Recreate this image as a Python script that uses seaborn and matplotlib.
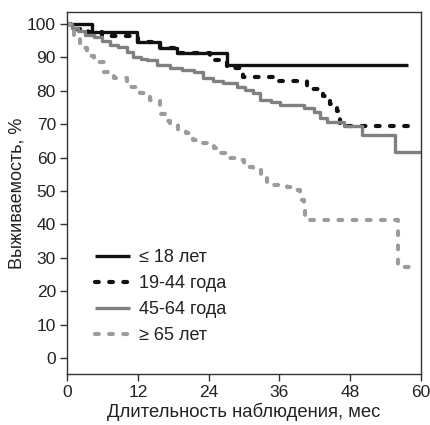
import matplotlib
matplotlib.use("Agg")
import matplotlib.pyplot as plt
import seaborn as sns
import pandas as pd

# Kaplan-Meier step data (months, survival %)
t_le18 = [0, 4.2, 11.9, 15.8, 18.6, 27.1, 57.8]
s_le18 = [100, 97.5, 94.6, 92.9, 91.2, 87.8, 87.8]

t_19_44 = [0, 1.5, 3.5, 6, 12, 15.8, 18.6, 24.2, 27.1, 29.8, 34.9, 40.6, 43.4, 44.5, 45.7, 46.3, 58.6]
s_19_44 = [100, 98.5, 97.5, 96.3, 94.6, 92.9, 91.2, 89.2, 86.8, 84.2, 82.8, 80.4, 78.3, 76, 74, 69.5, 69.5]

t_45_64 = [0, 0.8, 1.8, 3, 4.5, 6, 7.3, 8.7, 10.1, 11.2, 12.5, 13.5, 15.2, 17.5, 19.5, 21.5, 23.1,
           24.8, 26.5, 28.8, 30.2, 31.6, 32.7, 34.5, 36.1, 40.1, 41.8, 42.9, 44.1, 46.9, 50, 55.6, 60]
s_45_64 = [100, 98.8, 97.8, 96.8, 96, 95, 93.8, 93, 91.7, 90.2, 89.6, 89.2, 87.7, 86.7, 86.2, 85.7, 83.7,
           83, 82.2, 81.2, 80.2, 79.2, 77.2, 76.5, 75.7, 74.8, 73.7, 71.8, 70.7, 69.3, 66.8, 61.8, 61.8]

t_ge65 = [0, 0.5, 1.2, 2.2, 3.3, 4.5, 6.2, 7.9, 10.1, 12.4, 14.1, 15.8, 16.9, 17.5, 18.8, 20.2, 21.3,
          23.1, 24.9, 26, 27.1, 28.8, 30, 31.6, 32.8, 33.9, 35, 37.3, 38.7, 39.5, 40.1, 40.4, 56.1, 58.6]
s_ge65 = [100, 98.5, 95.5, 92.7, 90.5, 88.7, 85.7, 83.7, 81.2, 79.2, 77.2, 73, 71, 70, 68.3, 67.3, 65.3,
          64.3, 62.8, 61.3, 59.8, 59.3, 57.3, 56.3, 54.3, 52.8, 51.8, 51.3, 50.3, 47.3, 44.8, 41.3, 27.3, 27.3]

groups = ["≤ 18 лет", "19-44 года", "45-64 года", "≥ 65 лет"]
series = [(t_le18, s_le18), (t_19_44, s_19_44), (t_45_64, s_45_64), (t_ge65, s_ge65)]

sns.set_style("ticks")
plt.rcParams["font.family"] = ["Liberation Sans", "DejaVu Sans"]

fig = plt.figure(figsize=(4.3, 4.25), dpi=100)
ax = fig.add_axes([0.156, 0.12, 0.823, 0.852])

styles = {
    "≤ 18 лет": dict(color="#111111", ls="-", lw=2.4),
    "19-44 года": dict(color="#111111", ls=(0, (0.9, 2.5)), lw=3.0),
    "45-64 года": dict(color="#808080", ls="-", lw=2.4),
    "≥ 65 лет": dict(color="#9c9c9c", ls=(0, (0.9, 2.5)), lw=3.0),
}

for name, (t, s) in zip(groups, series):
    df = pd.DataFrame({"t": t, "s": s})
    st = styles[name]
    sns.lineplot(data=df, x="t", y="s", ax=ax, estimator=None, drawstyle="steps-post",
                 color=st["color"], linestyle=st["ls"], linewidth=st["lw"], label=name,
                 dash_capstyle="round", solid_capstyle="butt")

ax.set_xlim(0, 60)
ax.set_ylim(-4.8, 103.6)
ax.set_xticks(range(0, 61, 12))
ax.set_yticks(range(0, 101, 10))
ax.tick_params(axis="both", labelsize=12.5, length=5, width=1, color="#333333",
               labelcolor="#222222", pad=3)
for sp in ax.spines.values():
    sp.set_linewidth(1.0)
    sp.set_color("#333333")

ax.set_xlabel("Длительность наблюдения, мес", fontsize=13.3, color="#222222", labelpad=2)
ax.set_ylabel("Выживаемость, %", fontsize=13, color="#222222", labelpad=1)

leg = ax.legend(loc="upper left", bbox_to_anchor=(0.079, 0.345), frameon=False, fontsize=13,
                borderpad=0, borderaxespad=0, handlelength=1.95, handletextpad=0.5,
                labelspacing=0.5, labelcolor="#222222")

fig.savefig("out.png", dpi=100)
